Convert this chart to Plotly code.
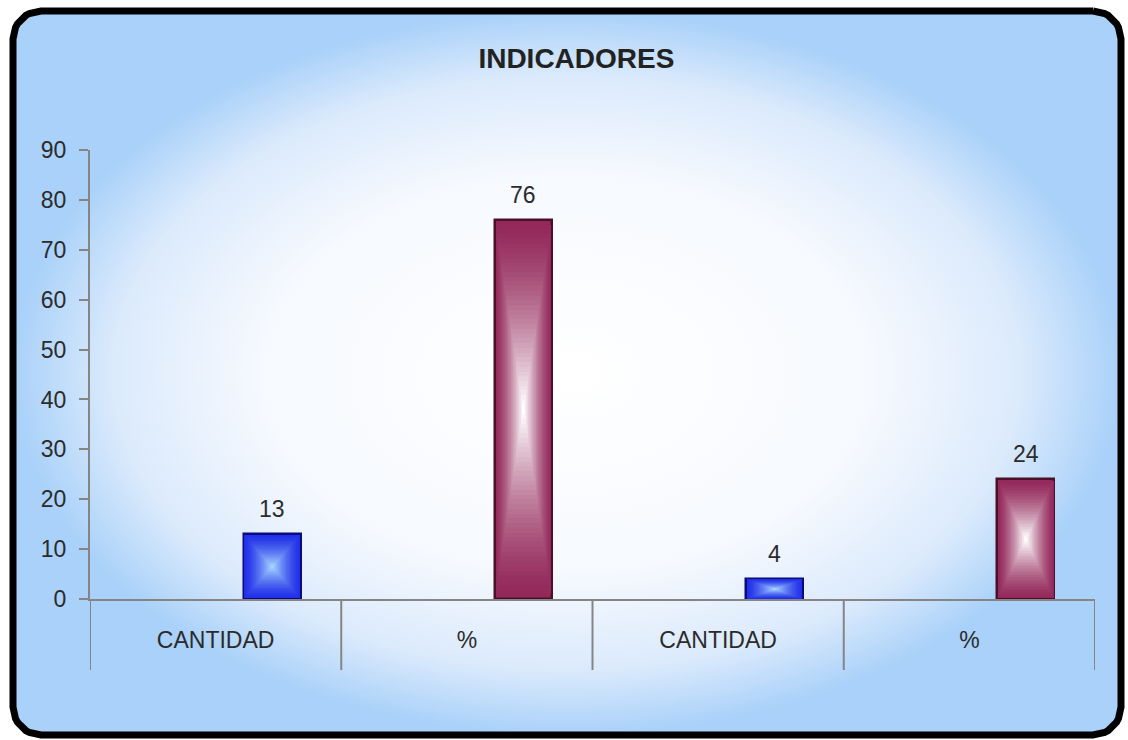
import numpy as np
import plotly.graph_objects as go

# ---------------- data ----------------
title_text = "INDICADORES"
categories = ["CANTIDAD", "%", "CANTIDAD", "%"]
cantidad_pos = [0, 2]
cantidad_vals = [13, 4]
pct_pos = [1, 3]
pct_vals = [76, 24]
y_ticks = [0, 10, 20, 30, 40, 50, 60, 70, 80, 90]

W, H = 1128, 740
FONT = "Liberation Sans, Arial, sans-serif"
AXIS_GRAY = "#858585"
TEXT = "#2b2b2b"

fig = go.Figure()

# ---------------- background frame (rounded, gradient) ----------------
def rounded_rect(x0, y0, x1, y1, r, n=12):
    xs, ys = [], []
    corners = [(x1 - r, y0 + r, -90, 0), (x1 - r, y1 - r, 0, 90),
               (x0 + r, y1 - r, 90, 180), (x0 + r, y0 + r, 180, 270)]
    for cx, cy, a0, a1 in corners:
        for a in np.linspace(np.radians(a0), np.radians(a1), n):
            xs.append(cx + r * np.cos(a))
            ys.append(cy + r * np.sin(a))
    xs.append(xs[0]); ys.append(ys[0])
    return xs, ys

fx, fy = rounded_rect(13, 11, 1121, 735, 28)
fig.add_trace(go.Scatter(
    x=fx, y=fy, mode="lines", fill="toself",
    line=dict(color="black", width=7),
    fillgradient=dict(type="radial",
                      colorscale=[[0, "#ffffff"], [0.55, "#f6f9fe"],
                                  [0.82, "#dbeafc"], [1, "#a9d1f9"]]),
    hoverinfo="skip", showlegend=False, xaxis="x", yaxis="y"))

# ---------------- bars with rectangular centre gradient ----------------
BAR_W = 0.227
BAR_OFF = 0.225  # bar centre offset from category centre

def mix(c1, c2, t):
    a = [int(c1[i:i + 2], 16) for i in (1, 3, 5)]
    b = [int(c2[i:i + 2], 16) for i in (1, 3, 5)]
    return "rgb(%d,%d,%d)" % tuple(round(a[i] + (b[i] - a[i]) * t) for i in range(3))

def gradient_bars(xpos, vals, edge, centre, border):
    n = 40
    for k in range(n):
        s = 0.5 * k / n
        w = BAR_W * (1 - 2 * s)
        t = (k / (n - 1)) ** 1.4
        col = mix(edge, centre, t)
        fig.add_trace(go.Bar(
            x=xpos, y=[v * (1 - 2 * s) for v in vals],
            base=[v * s for v in vals],
            width=w, offset=BAR_OFF - w / 2,
            marker=dict(color=col,
                        line=dict(color=border if k == 0 else col,
                                  width=2.5 if k == 0 else 0)),
            hoverinfo="skip", showlegend=False, xaxis="x2", yaxis="y2"))

gradient_bars(cantidad_pos, cantidad_vals, "#1f2ee8", "#a6d4ff", "#0a0a7a")
gradient_bars(pct_pos, pct_vals, "#93285a", "#ffffff", "#4a1028")

# value labels
for xs, vs in ((cantidad_pos, cantidad_vals), (pct_pos, pct_vals)):
    for xv, v in zip(xs, vs):
        fig.add_annotation(x=xv + BAR_OFF, y=v, xref="x2", yref="y2",
                           text=str(v), showarrow=False, yanchor="bottom",
                           yshift=10, font=dict(family=FONT, size=23, color=TEXT))

# ---------------- layout ----------------
x_dom = [90 / W, 1095 / W]
y_dom = [1 - 599 / H, 1 - 150 / H]
y_low = 1 - 670 / H

shapes = [dict(type="line", xref="x2", yref="paper", x0=-0.5, x1=-0.5,
               y0=y_low, y1=y_dom[0], line=dict(color=AXIS_GRAY, width=2))]
for i in range(len(categories)):
    shapes.append(dict(type="line", xref="x2", yref="paper", x0=i + 0.5, x1=i + 0.5,
                       y0=y_low, y1=y_dom[0], line=dict(color=AXIS_GRAY, width=2)))

fig.update_layout(
    width=W, height=H, margin=dict(l=0, r=0, t=0, b=0, pad=0, autoexpand=False),
    paper_bgcolor="white", plot_bgcolor="rgba(0,0,0,0)",
    barmode="overlay", bargap=0,
    title=dict(text="<b>%s</b>" % title_text, x=0.511, xanchor="center",
               y=1 - 58 / H, yanchor="middle", automargin=False,
               font=dict(family=FONT, size=28, color="#222222")),
    xaxis=dict(domain=[0, 1], range=[0, W], visible=False, fixedrange=True,
               automargin=False),
    yaxis=dict(domain=[0, 1], range=[H, 0], visible=False, fixedrange=True,
               automargin=False),
    xaxis2=dict(domain=x_dom, anchor="y2", range=[-0.5, len(categories) - 0.5],
                tickvals=list(range(len(categories))), ticktext=categories,
                showline=True, linecolor=AXIS_GRAY, linewidth=2, ticks="",
                showgrid=False, zeroline=False, ticklabelstandoff=19,
                automargin=False,
                tickfont=dict(family=FONT, size=23, color=TEXT)),
    yaxis2=dict(domain=y_dom, anchor="x2", range=[0, 90], tickvals=y_ticks,
                showline=True, linecolor=AXIS_GRAY, linewidth=2,
                ticks="outside", ticklen=9, tickwidth=2, tickcolor=AXIS_GRAY,
                showgrid=False, zeroline=False, ticklabelstandoff=8,
                automargin=False,
                tickfont=dict(family=FONT, size=23, color=TEXT)),
    shapes=shapes,
)

fig.write_html("out.html")
